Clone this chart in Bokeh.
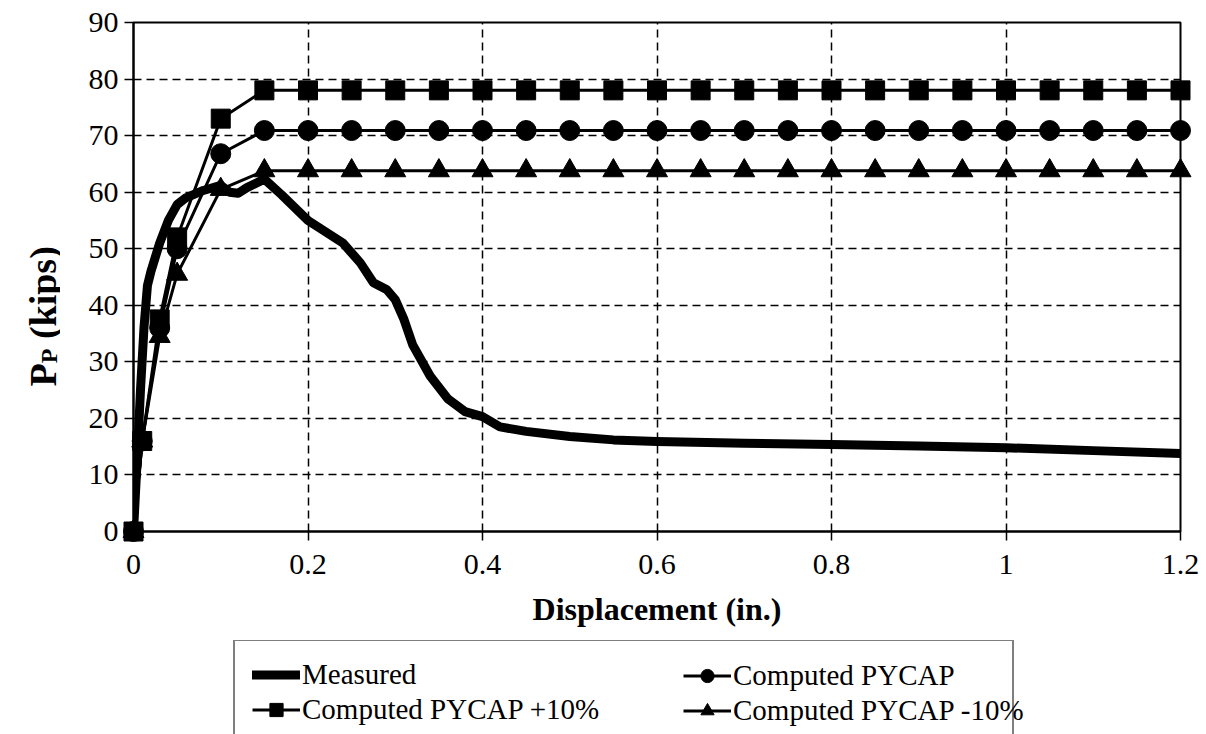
from bokeh.plotting import figure
from bokeh.layouts import row, column
from bokeh.models import Range1d, FixedTicker, Legend, LegendItem
from bokeh.core.properties import value
from bokeh.embed import file_html
from bokeh.resources import INLINE
import math

# ---- data ----
measured_x = [0, 0.004, 0.008, 0.012, 0.016, 0.02, 0.03, 0.04, 0.05, 0.06, 0.08, 0.1,
              0.11, 0.12, 0.13, 0.15, 0.17, 0.19, 0.2, 0.22, 0.24, 0.26, 0.275, 0.29,
              0.3, 0.31, 0.32, 0.34, 0.36, 0.38, 0.4, 0.42, 0.45, 0.5, 0.55, 0.6, 0.7,
              0.8, 0.9, 1.0, 1.1, 1.2]
measured_y = [0, 12, 25, 36, 43.5, 46, 51, 55, 57.8, 59, 60.3, 61.2,
              60.0, 59.8, 60.8, 62.3, 59.5, 56.5, 55, 53, 51, 47.5, 44, 42.8,
              41, 37.5, 33, 27.5, 23.5, 21.2, 20.3, 18.5, 17.7, 16.8, 16.2, 15.9, 15.6,
              15.4, 15.1, 14.8, 14.3, 13.8]

computed_x = [0, 0.01, 0.03, 0.05, 0.1, 0.15, 0.2, 0.25, 0.3, 0.35, 0.4, 0.45, 0.5,
              0.55, 0.6, 0.65, 0.7, 0.75, 0.8, 0.85, 0.9, 0.95, 1.0, 1.05, 1.1, 1.15, 1.2]
pycap_y = [0, 16, 36, 50, 66.8, 70.9] + [70.9] * 21
pycap_plus_y = [0, 16, 37.5, 52, 73.0, 78.0] + [78.0] * 21
pycap_minus_y = [0, 16, 34.5, 45.5, 60.5, 63.8] + [63.8] * 21

x_ticks = [0, 0.2, 0.4, 0.6, 0.8, 1.0, 1.2]
x_tick_labels = ["0", "0.2", "0.4", "0.6", "0.8", "1", "1.2"]
y_ticks = [0, 10, 20, 30, 40, 50, 60, 70, 80, 90]

series_names = ["Measured", "Computed PYCAP", "Computed PYCAP +10%", "Computed PYCAP -10%"]
y_title_parts = ["P", "P", "(kips)"]

FONT = "Liberation Serif"
W, H = 1206, 734
TITLE_W = 60
CHART_H = 640
LEG_H = H - CHART_H


def blank(fig):
    fig.outline_line_color = None
    fig.background_fill_color = "white"
    fig.border_fill_color = "white"
    fig.xgrid.visible = False
    fig.ygrid.visible = False


# ---- y-axis title strip (P with subscript P) ----
t = figure(frame_width=TITLE_W, frame_height=CHART_H, output_backend="svg",
           toolbar_location=None, x_range=Range1d(0, TITLE_W), y_range=Range1d(0, CHART_H),
           x_axis_type=None, y_axis_type=None, min_border=0)
blank(t)
F = 38
FS = 24
w_p = 0.611 * F
w_s = 0.611 * FS
w_space = 0.25 * F
y_start = CHART_H - 364
t.text(x=[42, 48, 42],
       y=[y_start, y_start + w_p, y_start + w_p + w_s + w_space],
       text=y_title_parts, angle=math.pi / 2,
       text_font=value(FONT), text_font_style="bold",
       text_font_size=[f"{F}px", f"{FS}px", f"{F}px"],
       text_color="black", text_align="left", text_baseline="alphabetic")

# ---- main chart ----
p = figure(width=W - TITLE_W, height=CHART_H, output_backend="svg", toolbar_location=None,
           x_range=Range1d(0, 1.2), y_range=Range1d(0, 90),
           min_border_left=133 - TITLE_W, min_border_right=26, min_border_top=22,
           min_border_bottom=CHART_H - 531)
p.background_fill_color = "white"
p.border_fill_color = "white"
p.outline_line_color = "black"
p.outline_line_width = 2

for ax in (p.xaxis[0], p.yaxis[0]):
    ax.axis_line_color = "black"
    ax.axis_line_width = 2
    ax.major_tick_line_color = "black"
    ax.major_tick_line_width = 1.5
    ax.major_tick_out = 9
    ax.major_tick_in = 0
    ax.minor_tick_line_color = None
    ax.major_label_text_font = FONT
    ax.major_label_text_font_size = "30px"
    ax.major_label_text_color = "black"

p.xaxis.ticker = FixedTicker(ticks=x_ticks)
p.xaxis.major_label_overrides = {tk: lb for tk, lb in zip(x_ticks, x_tick_labels)}
p.xaxis.major_label_standoff = 14
p.xaxis.axis_label = "Displacement (in.)"
p.xaxis.axis_label_text_font = FONT
p.xaxis.axis_label_text_font_size = "32px"
p.xaxis.axis_label_text_font_style = "bold"
p.xaxis.axis_label_text_color = "black"
p.xaxis.axis_label_standoff = 14

p.yaxis.ticker = FixedTicker(ticks=y_ticks)
p.yaxis.major_label_standoff = 6

p.xgrid.ticker = FixedTicker(ticks=x_ticks)
p.ygrid.ticker = FixedTicker(ticks=y_ticks)
for g in (p.xgrid[0], p.ygrid[0]):
    g.grid_line_color = "black"
    g.grid_line_width = 1.5
    g.grid_line_dash = "8 5"

MEAS_STYLE = dict(line_color="black", line_width=9, line_join="round", line_cap="round")
COMP_LINE = dict(line_color="black", line_width=3)
MARKERS = {"pc": ("circle", 20), "pp": ("square", 19), "pm": ("triangle", 21)}

p.line(measured_x, measured_y, **MEAS_STYLE)
for key, ys in (("pc", pycap_y), ("pp", pycap_plus_y), ("pm", pycap_minus_y)):
    p.line(computed_x, ys, **COMP_LINE)
for key, ys in (("pc", pycap_y), ("pp", pycap_plus_y), ("pm", pycap_minus_y)):
    mk, sz = MARKERS[key]
    p.scatter(computed_x, ys, marker=mk, size=sz, fill_color="black",
              line_color="black", level="overlay")

# ---- legend strip (proxy glyphs lie outside the strip's visible range) ----
lf = figure(frame_width=W, frame_height=LEG_H, output_backend="svg", toolbar_location=None,
            x_range=Range1d(0, W), y_range=Range1d(0, LEG_H),
            x_axis_type=None, y_axis_type=None, min_border=0)
blank(lf)
OFF = [-1000]
g_meas = lf.line(OFF, OFF, **MEAS_STYLE)
g = {}
for key in ("pc", "pp", "pm"):
    mk, sz = MARKERS[key]
    ln = lf.line(OFF, OFF, **COMP_LINE)
    sc = lf.scatter(OFF, OFF, marker=mk, size=sz, fill_color="black", line_color="black")
    g[key] = [ln, sc]

PAD = 17
LEG_W = 777


def make_legend(items, loc, boxed, label_width):
    lg = Legend(items=items, location=loc)
    lg.label_text_font = FONT
    lg.label_text_font_size = "29px"
    lg.label_text_color = "black"
    lg.glyph_width = 48
    lg.glyph_height = 33
    lg.label_width = label_width
    lg.label_standoff = 2
    lg.spacing = 2
    lg.padding = PAD
    lg.margin = 0
    if boxed:
        lg.border_line_color = "black"
        lg.border_line_width = 2
        lg.background_fill_color = "white"
        lg.background_fill_alpha = 1.0
    else:
        lg.border_line_color = None
        lg.background_fill_alpha = 0.0
    return lg


leg_a = make_legend([LegendItem(label=series_names[0], renderers=[g_meas]),
                     LegendItem(label=series_names[2], renderers=g["pp"])],
                    (233, -11), True, LEG_W - 2 * PAD - 50)
leg_b = make_legend([LegendItem(label=series_names[1], renderers=g["pc"]),
                     LegendItem(label=series_names[3], renderers=g["pm"])],
                    (700 - PAD, 7), False, 20)
lf.add_layout(leg_a, "center")
lf.add_layout(leg_b, "center")

layout = column(row(t, p, spacing=0), lf, spacing=0)
open("out.html", "w").write(file_html(layout, INLINE))
